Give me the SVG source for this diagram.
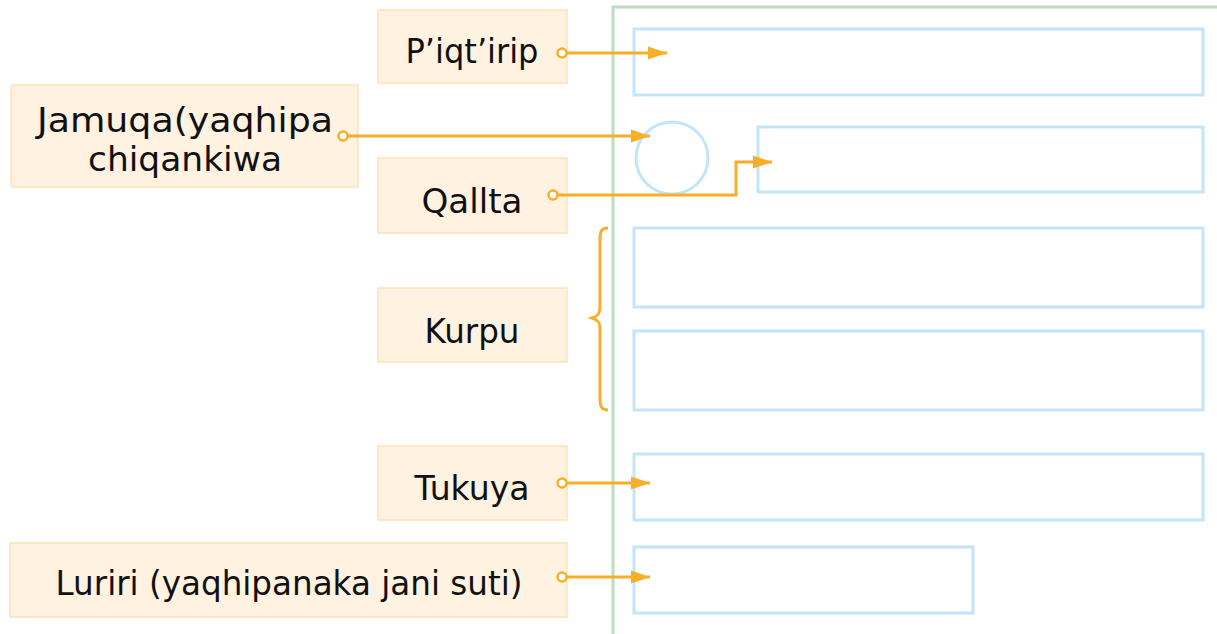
<svg xmlns="http://www.w3.org/2000/svg" width="1217" height="634" viewBox="0 0 1217 634">
  <style>
    .lbl rect { fill: #FFF2E1; stroke: #FFE2B8; stroke-width: 1.5; }
    .lbl text { font-family: "DejaVu Sans", "Liberation Sans", sans-serif; font-size: 33px; fill: #111; text-anchor: middle; }
    .slot { fill: none; stroke: #C2E5F9; stroke-width: 3; }
    .frame { fill: none; stroke: #BEDDBE; stroke-width: 3; }
    .wire { fill: none; stroke: #F8AE27; stroke-width: 3; }
    .dot { fill: #fff; stroke: #F8AE27; stroke-width: 2.5; }
  </style>
  <defs>
    <marker id="head" viewBox="0 0 10 10" refX="10" refY="5" markerWidth="6.5" markerHeight="6.5" markerUnits="strokeWidth" orient="auto">
      <path d="M0,1.6 L10,5 L0,8.4 Z" fill="#F8AE27"/>
    </marker>
  </defs>

  <rect width="1217" height="634" fill="#fff"/>

  <!-- frame -->
  <path class="frame" d="M613,634 V7 H1217"/>

  <!-- target slots -->
  <g id="slots">
    <rect class="slot" x="634" y="29" width="569" height="66"/>
    <circle class="slot" cx="672" cy="158" r="36"/>
    <rect class="slot" x="758" y="127" width="445" height="65"/>
    <rect class="slot" x="634" y="228" width="569" height="79"/>
    <rect class="slot" x="634" y="331" width="569" height="79"/>
    <rect class="slot" x="634" y="454" width="569" height="66"/>
    <rect class="slot" x="634" y="547" width="339" height="66"/>
  </g>

  <!-- labels -->
  <g id="piqtirip" class="lbl">
    <rect x="378" y="10" width="189" height="73"/>
    <text x="472" y="63" textLength="133" lengthAdjust="spacingAndGlyphs">P’iqt’irip</text>
  </g>
  <g id="jamuqa" class="lbl">
    <rect x="11" y="85" width="347" height="102"/>
    <text x="185" y="132" textLength="296" lengthAdjust="spacingAndGlyphs">Jamuqa(yaqhipa</text>
    <text x="185" y="171" textLength="194" lengthAdjust="spacingAndGlyphs">chiqankiwa</text>
  </g>
  <g id="qallta" class="lbl">
    <rect x="378" y="158" width="189" height="75"/>
    <text x="472" y="213" textLength="101" lengthAdjust="spacingAndGlyphs">Qallta</text>
  </g>
  <g id="kurpu" class="lbl">
    <rect x="378" y="288" width="189" height="74"/>
    <text x="472" y="343" textLength="95" lengthAdjust="spacingAndGlyphs">Kurpu</text>
  </g>
  <g id="tukuya" class="lbl">
    <rect x="378" y="446" width="189" height="74"/>
    <text x="472" y="500" textLength="115" lengthAdjust="spacingAndGlyphs">Tukuya</text>
  </g>
  <g id="luriri" class="lbl">
    <rect x="10" y="543" width="557" height="74"/>
    <text x="289" y="595" textLength="467" lengthAdjust="spacingAndGlyphs">Luriri (yaqhipanaka jani suti)</text>
  </g>

  <!-- connectors -->
  <g id="connectors">
    <path class="wire" d="M566,53 H667" marker-end="url(#head)"/>
    <circle class="dot" cx="562" cy="53" r="4.5"/>

    <path class="wire" d="M347,136 H650" marker-end="url(#head)"/>
    <circle class="dot" cx="343" cy="136" r="4.5"/>

    <path class="wire" d="M557,195 H736 V162 H772" marker-end="url(#head)"/>
    <circle class="dot" cx="553" cy="195" r="4.5"/>

    <path class="wire" d="M566,483 H650" marker-end="url(#head)"/>
    <circle class="dot" cx="562" cy="483" r="4.5"/>

    <path class="wire" d="M566,577 H650" marker-end="url(#head)"/>
    <circle class="dot" cx="562" cy="577" r="4.5"/>

    <!-- brace over the body slots -->
    <path class="wire" d="M608,228 C601,228 600,232 600,240 V306 C600,314 598,316 592,318 C598,320 600,322 600,330 V398 C600,406 601,410 608,410"/>
  </g>
</svg>
